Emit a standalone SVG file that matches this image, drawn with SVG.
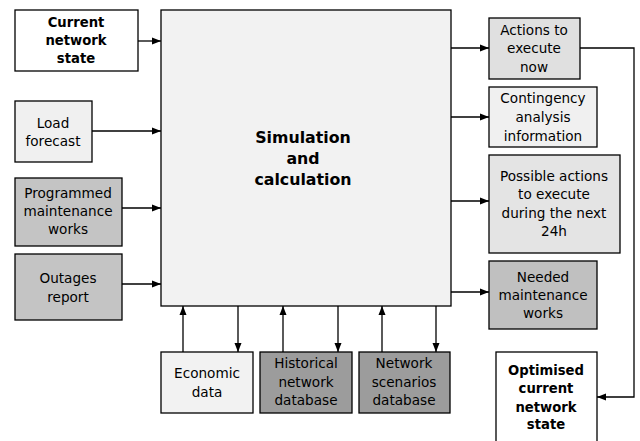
<svg xmlns="http://www.w3.org/2000/svg" width="640" height="441" viewBox="0 0 640 441">
<style>
  .box{stroke:#000;stroke-width:1.3}
  .t{font-family:"DejaVu Sans",Verdana,sans-serif;font-size:13.6px;fill:#000;text-anchor:middle}
  .b{font-family:"DejaVu Sans",Verdana,sans-serif;font-size:13.2px;font-weight:bold;fill:#000;text-anchor:middle}
  .c{fill:none;stroke:#000;stroke-width:1.3}
</style>
<defs>
  <marker id="ah" markerWidth="9" markerHeight="8" refX="9" refY="4" orient="auto" markerUnits="userSpaceOnUse">
    <path d="M0,0.5 L9,4 L0,7.5 Z" fill="#000"/>
  </marker>
</defs>
<rect width="640" height="441" fill="#fff"/>
<g id="main">
  <rect class="box" x="161" y="10" width="290" height="296" fill="#f2f2f2"/>
  <text class="b" style="font-size:15.8px" x="303" y="143">Simulation</text>
  <text class="b" style="font-size:15.8px" x="303" y="164">and</text>
  <text class="b" style="font-size:15.8px" x="303" y="185">calculation</text>
</g>
<g id="current">
  <rect class="box" x="15" y="10" width="123" height="61" fill="#fff"/>
  <text class="b" x="76" y="27">Current</text>
  <text class="b" x="76" y="45">network</text>
  <text class="b" x="76" y="63">state</text>
</g>
<g id="load">
  <rect class="box" x="15" y="101" width="77" height="61" fill="#f0f0f0"/>
  <text class="t" x="53" y="128">Load</text>
  <text class="t" x="53" y="146">forecast</text>
</g>
<g id="programmed">
  <rect class="box" x="15" y="178" width="107" height="68" fill="#c4c4c4"/>
  <text class="t" x="68" y="198">Programmed</text>
  <text class="t" x="68" y="216">maintenance</text>
  <text class="t" x="68" y="234">works</text>
</g>
<g id="outages">
  <rect class="box" x="15" y="254" width="107" height="66" fill="#c4c4c4"/>
  <text class="t" x="68" y="283">Outages</text>
  <text class="t" x="68" y="302">report</text>
</g>
<g id="economic">
  <rect class="box" x="161" y="352" width="92" height="61" fill="#f2f2f2"/>
  <text class="t" x="207" y="378">Economic</text>
  <text class="t" x="207" y="397">data</text>
</g>
<g id="historical">
  <rect class="box" x="260" y="352" width="92" height="61" fill="#9c9c9c"/>
  <text class="t" x="306" y="368">Historical</text>
  <text class="t" x="306" y="387">network</text>
  <text class="t" x="306" y="405">database</text>
</g>
<g id="scenarios">
  <rect class="box" x="359" y="352" width="91" height="61" fill="#9c9c9c"/>
  <text class="t" x="404" y="368">Network</text>
  <text class="t" x="404" y="387">scenarios</text>
  <text class="t" x="404" y="405">database</text>
</g>
<g id="actions">
  <rect class="box" x="489" y="18" width="91" height="61" fill="#e0e0e0"/>
  <text class="t" x="534" y="35">Actions to</text>
  <text class="t" x="534" y="53">execute</text>
  <text class="t" x="534" y="72">now</text>
</g>
<g id="contingency">
  <rect class="box" x="489" y="87" width="108" height="60" fill="#f0f0f0"/>
  <text class="t" x="543" y="103">Contingency</text>
  <text class="t" x="543" y="122">analysis</text>
  <text class="t" x="543" y="141">information</text>
</g>
<g id="possible">
  <rect class="box" x="489" y="155" width="131" height="98" fill="#e4e4e4"/>
  <text class="t" x="554" y="181">Possible actions</text>
  <text class="t" x="554" y="199">to execute</text>
  <text class="t" x="554" y="218">during the next</text>
  <text class="t" x="554" y="236">24h</text>
</g>
<g id="needed">
  <rect class="box" x="489" y="261" width="108" height="68" fill="#c0c0c0"/>
  <text class="t" x="543" y="282">Needed</text>
  <text class="t" x="543" y="300">maintenance</text>
  <text class="t" x="543" y="318">works</text>
</g>
<g id="optimised">
  <rect class="box" x="496" y="352" width="101" height="95" fill="#fff"/>
  <text class="b" x="546" y="375">Optimised</text>
  <text class="b" x="546" y="393">current</text>
  <text class="b" x="546" y="412">network</text>
  <text class="b" x="546" y="429">state</text>
</g>
<g id="connectors">
  <line class="c" x1="138" y1="41" x2="161" y2="41" marker-end="url(#ah)"/>
  <line class="c" x1="92" y1="131" x2="161" y2="131" marker-end="url(#ah)"/>
  <line class="c" x1="122" y1="208" x2="161" y2="208" marker-end="url(#ah)"/>
  <line class="c" x1="122" y1="284" x2="161" y2="284" marker-end="url(#ah)"/>
  <line class="c" x1="183" y1="352" x2="183" y2="306" marker-end="url(#ah)"/>
  <line class="c" x1="238" y1="306" x2="238" y2="352" marker-end="url(#ah)"/>
  <line class="c" x1="283" y1="352" x2="283" y2="306" marker-end="url(#ah)"/>
  <line class="c" x1="338" y1="306" x2="338" y2="352" marker-end="url(#ah)"/>
  <line class="c" x1="382" y1="352" x2="382" y2="306" marker-end="url(#ah)"/>
  <line class="c" x1="436" y1="306" x2="436" y2="352" marker-end="url(#ah)"/>
  <line class="c" x1="451" y1="48" x2="489" y2="48" marker-end="url(#ah)"/>
  <line class="c" x1="451" y1="117" x2="489" y2="117" marker-end="url(#ah)"/>
  <line class="c" x1="451" y1="201" x2="489" y2="201" marker-end="url(#ah)"/>
  <line class="c" x1="451" y1="292" x2="489" y2="292" marker-end="url(#ah)"/>
  <polyline class="c" points="580,48 634,48 634,397 597,397" marker-end="url(#ah)"/>
</g>
</svg>
